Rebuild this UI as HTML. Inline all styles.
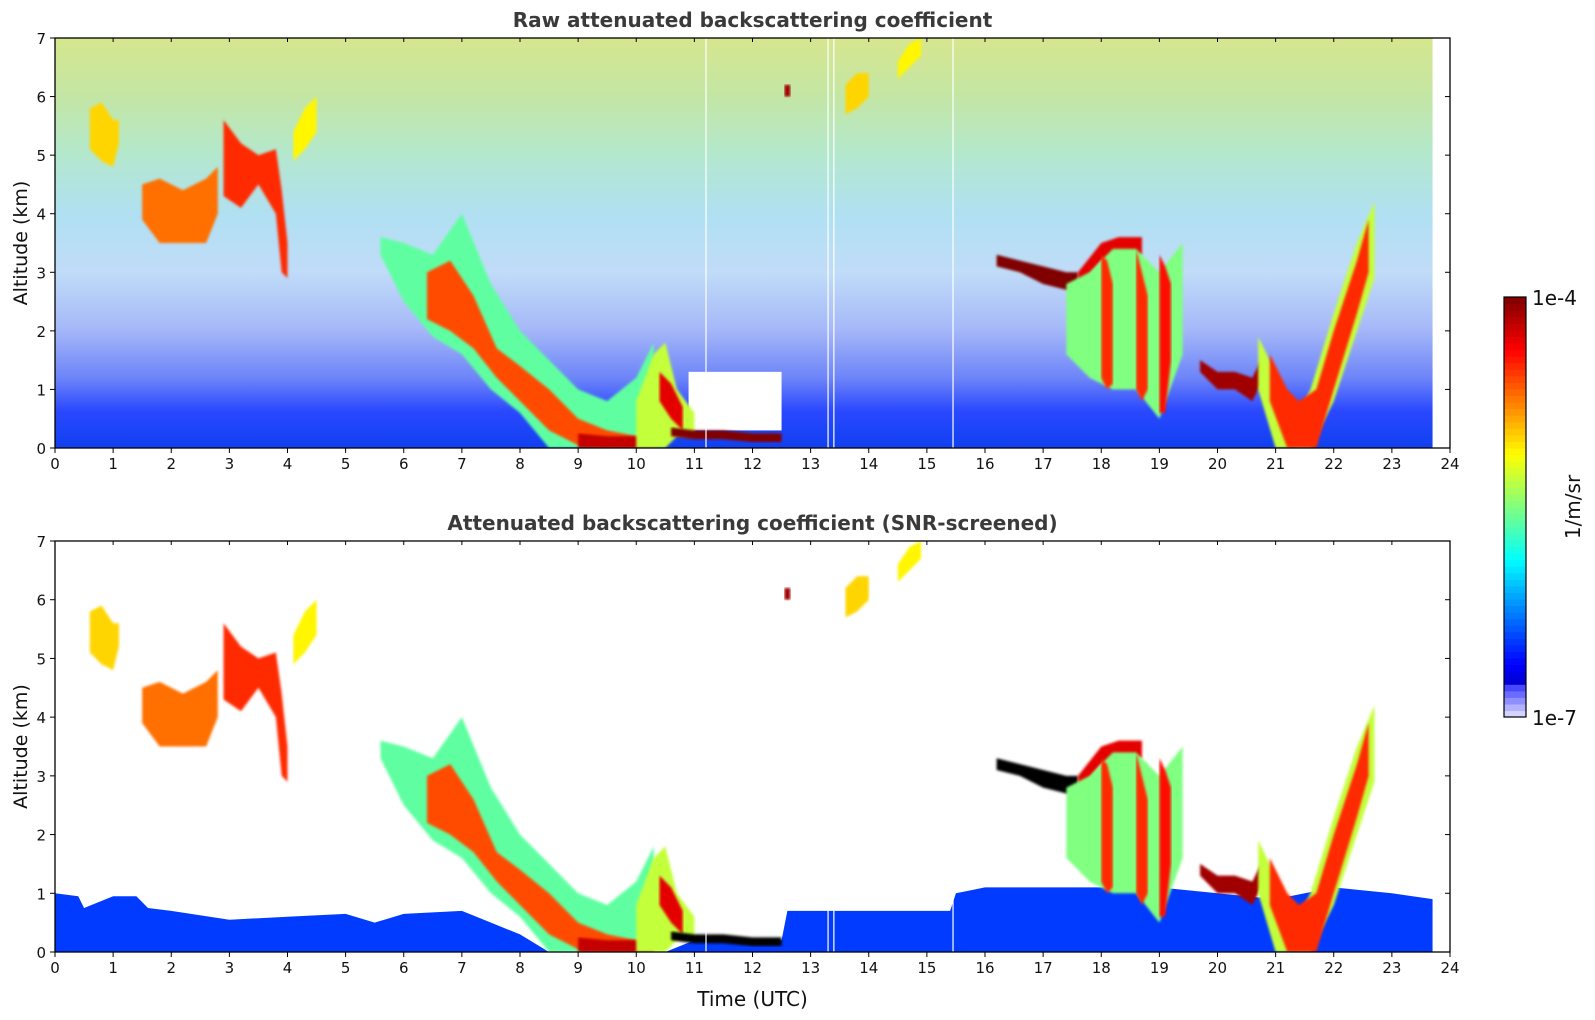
<!DOCTYPE html>
<html><head><meta charset="utf-8">
<style>
html,body{margin:0;padding:0;background:#fff;}
svg{display:block;font-family:"DejaVu Sans","Liberation Sans",sans-serif;}
</style></head>
<body>
<svg id="fig" width="1595" height="1020" viewBox="0 0 1595 1020" xmlns="http://www.w3.org/2000/svg">
<defs>
<linearGradient id="rawbg" x1="0" y1="0" x2="0" y2="1">
<stop offset="0" stop-color="#d6e68e"/>
<stop offset="0.14" stop-color="#c4e6a4"/>
<stop offset="0.28" stop-color="#b4e8cc"/>
<stop offset="0.43" stop-color="#b0e0f2"/>
<stop offset="0.57" stop-color="#c0dcf8"/>
<stop offset="0.71" stop-color="#a6b8f8"/>
<stop offset="0.83" stop-color="#6c84f8"/>
<stop offset="0.91" stop-color="#2a48ff"/>
<stop offset="1" stop-color="#1040f0"/>
</linearGradient>
<filter id="soft" x="-5%" y="-5%" width="110%" height="110%"><feGaussianBlur stdDeviation="1.2"/></filter>
<clipPath id="clipTop"><rect x="55" y="38" width="1395" height="410"/></clipPath>
<clipPath id="clipBot"><rect x="55" y="541" width="1395" height="411"/></clipPath>
</defs>
<g id="top"></g>
<g id="bot"></g>
<g id="cbar"></g>
</svg>
<script>
// ---- data ----
const hourTicks = [0,1,2,3,4,5,6,7,8,9,10,11,12,13,14,15,16,17,18,19,20,21,22,23,24];
const altTicks = [0,1,2,3,4,5,6,7];
const featureNames = ["cirrus-a","cloud-b","cloud-c","cirrus-d","plume-outer","plume-core","plume-base","bump-outer","bump-core","low-layer-dark","mid-layer-dark","mid-layer-tail","streaks","streak-1","streak-2","streak-3","layer-20h","v-outer","v-core","upper-13h","upper-14h","dot-12h"];
const featureTimes = [
 [0.6,0.8,1.0,1.1],
 [1.5,1.8,2.2,2.6,2.8],
 [2.9,3.2,3.5,3.8,3.9,4.0],
 [4.1,4.3,4.5],
 [5.6,6.0,6.5,7.0,7.5,8.0,8.5,9.0,9.5,10.0,10.3],
 [6.4,6.8,7.2,7.6,8.0,8.5,9.0,9.5,10.0],
 [9.0,9.5,10.0,10.3],
 [10.0,10.3,10.5,10.7,11.0],
 [10.4,10.6,10.8],
 [10.6,11.0,11.5,12.0,12.5],
 [16.2,16.6,17.0,17.4,17.6],
 [17.6,18.0,18.3,18.7],
 [17.4,17.8,18.2,18.6,19.0,19.4],
 [18.0,18.1,18.2],
 [18.6,18.7,18.8],
 [19.0,19.1,19.2],
 [19.7,20.0,20.3,20.6,20.8],
 [20.7,21.0,21.3,21.6,22.0,22.4,22.7],
 [20.9,21.2,21.4,21.7,22.0,22.4,22.6],
 [13.6,13.8,14.0],
 [14.5,14.7,14.9],
 [12.55,12.6,12.65]
];
const featureTops = [
 [5.8,5.9,5.6,5.6],
 [4.5,4.6,4.4,4.6,4.8],
 [5.6,5.2,5.0,5.1,4.4,3.5],
 [5.4,5.8,6.0],
 [3.6,3.5,3.3,4.0,2.8,2.0,1.5,1.0,0.8,1.2,1.8],
 [3.0,3.2,2.6,1.7,1.4,1.0,0.5,0.3,0.2],
 [0.25,0.2,0.2,0.2],
 [0.8,1.6,1.8,1.0,0.6],
 [1.3,1.1,0.7],
 [0.35,0.3,0.3,0.25,0.25],
 [3.3,3.2,3.1,3.0,3.0],
 [3.0,3.5,3.6,3.6],
 [2.8,3.0,3.4,3.4,3.0,3.5],
 [3.3,3.2,2.8],
 [3.4,3.0,2.6],
 [3.3,3.1,2.8],
 [1.5,1.3,1.3,1.2,1.6],
 [1.9,1.3,0.4,1.0,2.3,3.5,4.2],
 [1.6,1.0,0.8,1.0,2.0,3.2,3.9],
 [6.2,6.4,6.4],
 [6.6,6.9,7.0],
 [6.2,6.2,6.2]
];
const featureBottoms = [
 [5.1,4.9,4.8,5.2],
 [3.9,3.5,3.5,3.5,4.0],
 [4.3,4.1,4.5,4.0,3.0,2.9],
 [4.9,5.1,5.4],
 [3.3,2.5,1.9,1.6,1.0,0.6,0,0,0,0,0],
 [2.2,2.0,1.7,1.2,0.8,0.3,0.05,0,0],
 [0,0,0,0],
 [0,0,0,0.2,0.2],
 [0.8,0.5,0.3],
 [0.2,0.15,0.15,0.1,0.1],
 [3.1,3.0,2.8,2.7,2.7],
 [2.7,3.2,3.3,3.3],
 [1.6,1.2,1.0,1.0,0.5,1.6],
 [1.2,1.0,1.1],
 [1.0,0.8,1.0],
 [0.6,0.6,1.5],
 [1.3,1.0,1.0,0.8,1.2],
 [1.0,0,0,0,0.8,2.0,2.9],
 [0.8,0,0,0,1.0,2.3,3.0],
 [5.7,5.8,6.0],
 [6.3,6.5,6.7],
 [6.0,6.0,6.0]
];
const featureLogValues = [-5.0,-4.7,-4.5,-5.1,-5.6,-4.6,-4.2,-5.3,-4.3,-4.0,-4.0,-4.3,-5.5,-4.5,-4.5,-4.4,-4.1,-5.3,-4.5,-5.0,-5.1,-4.1];
// SNR-screened low blue layer (top altitude)
const lowLayerTimes = [0,0.4,0.5,1.0,1.4,1.6,2,3,4,5,5.5,6,7,7.5,8,8.5,10.5,11,12.5,12.6,15.4,15.5,16,17,18,19,20,21,22,23,23.7];
const lowLayerTops  = [1.0,0.95,0.75,0.95,0.95,0.75,0.7,0.55,0.6,0.65,0.5,0.65,0.7,0.5,0.3,0,0,0.2,0.2,0.7,0.7,1.0,1.1,1.1,1.1,1.1,1.0,0.9,1.1,1.0,0.9];
const lowLayerLog = -6.45;
const logMin = -7, logMax = -4;

// ---- helpers ----
const NS = "http://www.w3.org/2000/svg";
const X0 = 55, X1 = 1450;
const panels = [{g:"top",y0:38,y1:448,clip:"clipTop",title:"Raw attenuated backscattering coefficient"},
                {g:"bot",y0:541,y1:952,clip:"clipBot",title:"Attenuated backscattering coefficient (SNR-screened)"}];
function xs(t){return X0 + t*(X1-X0)/24;}
function ysF(p){return a => p.y1 - a*(p.y1-p.y0)/7;}
function cl(v){return Math.max(0,Math.min(1,v));}
function jet(v){
  const r=cl(1.5-Math.abs(4*v-3)), g=cl(1.5-Math.abs(4*v-2)), b=cl(1.5-Math.abs(4*v-1));
  return "rgb("+Math.round(r*255)+","+Math.round(g*255)+","+Math.round(b*255)+")";
}
function colorFor(lv,screened){
  const v=(lv-logMin)/(logMax-logMin);
  if(screened && v>=0.98) return "#000";
  if(v<0.08){const k=v/0.08; return "rgb("+Math.round(230-180*k)+","+Math.round(230-180*k)+",255)";}
  return jet(v);
}
function el(tag,attrs,parent){const e=document.createElementNS(NS,tag);for(const k in attrs)e.setAttribute(k,attrs[k]);parent.appendChild(e);return e;}

panels.forEach((p,pi)=>{
  const G=document.getElementById(p.g);
  const ys=ysF(p);
  const screened = pi===1;
  const data=el("g",{"clip-path":"url(#"+p.clip+")"},G);
  
  
  if(!screened){
    const bg=el("rect",{x:xs(0),y:p.y0,width:xs(23.7)-xs(0),height:p.y1-p.y0,fill:"url(#rawbg)"},data);
    
    
    const gap=el("rect",{x:xs(10.9),y:ys(1.3),width:xs(12.5)-xs(10.9),height:ys(0.3)-ys(1.3),fill:"#fff"},data);
    
    
  } else {
    let pts=lowLayerTimes.map((t,i)=>xs(t)+","+ys(lowLayerTops[i]));
    pts.push(xs(23.7)+","+ys(0)); pts.push(xs(0)+","+ys(0));
    const ll=el("polygon",{points:pts.join(" "),fill:colorFor(lowLayerLog,true)},data);
    
    
  }
  featureTimes.forEach((ts,fi)=>{
    const top=ts.map((t,i)=>xs(t)+","+ys(featureTops[fi][i]));
    const bot=ts.map((t,i)=>xs(t)+","+ys(featureBottoms[fi][i])).reverse();
    const poly=el("polygon",{points:top.concat(bot).join(" "),fill:colorFor(featureLogValues[fi],screened),filter:"url(#soft)"},data);
    
    
  });
  [11.2,13.3,13.4,15.45].forEach(t=>{
    const l=el("line",{x1:xs(t),x2:xs(t),y1:p.y0,y2:p.y1,stroke:"#fff","stroke-width":1.2},data);
    
    
  });
  const fr=el("rect",{x:X0,y:p.y0,width:X1-X0,height:p.y1-p.y0,fill:"none",stroke:"#000","stroke-width":1.3},G);
  
  
  hourTicks.forEach(t=>{
    el("line",{x1:xs(t),x2:xs(t),y1:p.y1,y2:p.y1+5,stroke:"#000"},G);
    el("line",{x1:xs(t),x2:xs(t),y1:p.y0,y2:p.y0+4,stroke:"#000"},G);
    const tx=el("text",{x:xs(t),y:p.y1+21,"text-anchor":"middle","font-size":15,fill:"#111"},G);
    tx.textContent=t;
    
    
  });
  altTicks.forEach(a=>{
    el("line",{x1:X0-5,x2:X0,y1:ys(a),y2:ys(a),stroke:"#000"},G);
    el("line",{x1:X1-5,x2:X1,y1:ys(a),y2:ys(a),stroke:"#000"},G);
    const tx=el("text",{x:X0-9,y:ys(a)+6,"text-anchor":"end","font-size":15,fill:"#111"},G);
    tx.textContent=a;
    
    
  });
  const ti=el("text",{x:(X0+X1)/2,y:p.y0-11,"text-anchor":"middle","font-size":20,"font-weight":"bold",fill:"#3a3a3a"},G);
  ti.textContent=p.title;
  
  
  const yl=el("text",{x:0,y:0,"text-anchor":"middle","font-size":19,fill:"#111",transform:"translate(27,"+((p.y0+p.y1)/2)+") rotate(-90)"},G);
  yl.textContent="Altitude (km)";
  
  
});
const xl=el("text",{x:(X0+X1)/2,y:1006,"text-anchor":"middle","font-size":20,fill:"#111"},document.getElementById("bot"));
xl.textContent="Time (UTC)";



// colorbar
const CB=document.getElementById("cbar");
const cbX=1504, cbW=22, cbY0=297, cbY1=717, nSteps=64;
for(let i=0;i<nSteps;i++){
  const lv=logMin+(i+0.5)/nSteps*(logMax-logMin);
  const h=(cbY1-cbY0)/nSteps;
  const r=el("rect",{x:cbX,y:cbY1-(i+1)*h,width:cbW,height:h+0.6,fill:colorFor(lv,false)},CB);
  
  
}
el("rect",{x:cbX,y:cbY0,width:cbW,height:cbY1-cbY0,fill:"none",stroke:"#000","stroke-width":1.2},CB);
const c1=el("text",{x:1532,y:cbY0+8,"font-size":20,fill:"#111"},CB); c1.textContent="1e-4";


const c2=el("text",{x:1532,y:cbY1+8,"font-size":20,fill:"#111"},CB); c2.textContent="1e-7";


const cu=el("text",{x:0,y:0,"text-anchor":"middle","font-size":20,fill:"#111",transform:"translate(1580,507) rotate(-90)"},CB); cu.textContent="1/m/sr";


</script>
</body></html>
